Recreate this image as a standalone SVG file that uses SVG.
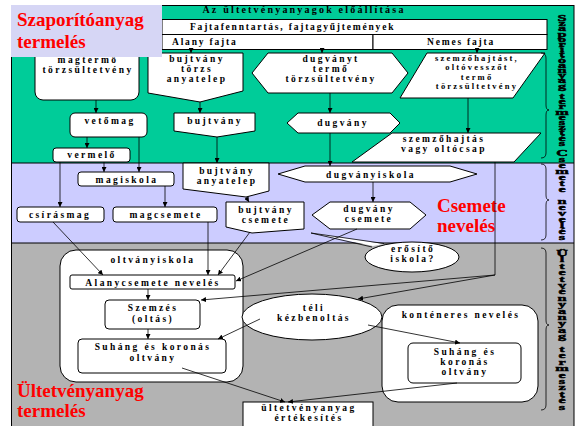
<svg xmlns="http://www.w3.org/2000/svg" width="577" height="426" viewBox="0 0 577 426">
<defs>
<marker id="ah" viewBox="0 0 6 6" refX="6" refY="3" markerWidth="5" markerHeight="5" orient="auto" markerUnits="userSpaceOnUse"><path d="M0,0 L6,3 L0,6 z" fill="#000"/></marker>
<style>
.t{font-family:"Liberation Serif","Times New Roman",serif;font-weight:bold;font-size:9.5px;letter-spacing:2.4px;text-anchor:middle;fill:#000}
.s{font-size:8.5px;letter-spacing:2.2px}
.h{font-family:"Liberation Serif","Times New Roman",serif;font-weight:bold;font-size:9.5px;letter-spacing:1.8px;fill:#000}
.r{font-family:"Liberation Serif","Times New Roman",serif;font-weight:bold;font-size:19px;fill:#f00}
.v{font-family:"Liberation Serif","Times New Roman",serif;font-weight:bold;font-size:12px;text-anchor:middle;fill:#000;stroke:#000;stroke-width:0.6px}
.n{fill:#fff;stroke:#000;stroke-width:1}
.c{fill:none;stroke:#000;stroke-width:0.8}
.a{marker-end:url(#ah)}
</style>
</defs>
<rect width="577" height="426" fill="#fff"/>
<!-- bands -->
<rect x="11" y="5" width="563" height="158" fill="#00CC99"/>
<rect x="11" y="163" width="563" height="80" fill="#CCCCFF"/>
<rect x="11" y="243" width="563" height="183" fill="#B3B3B3"/>
<path d="M11,163 H574 M11,243 H574" stroke="#000" stroke-width="1"/>
<rect x="11.5" y="5.5" width="562.5" height="425" fill="none" stroke="#000" stroke-width="1"/>

<!-- header rows -->
<g id="header">
<text class="h" x="304" y="13" style="font-size:10px;letter-spacing:2.2px;text-anchor:middle">Az ültetvényanyagok előállítása</text>
<rect class="n" x="162" y="19.5" width="385" height="15"/>
<text class="h" x="190" y="30">Fajtafenntartás, fajtagyűjtemények</text>
<rect class="n" x="162" y="34.5" width="211" height="15"/>
<rect class="n" x="373" y="34.5" width="174" height="15"/>
<text class="h" x="172" y="45">Alany fajta</text>
<text class="h" x="427" y="45">Nemes fajta</text>
</g>

<!-- green band nodes -->
<g id="magtermo"><rect class="n" x="35" y="46" width="104" height="54" rx="8"/><text class="t" x="88" y="63">magtermő</text><text class="t" x="88" y="73">törzsültetvény</text></g>
<g id="bujtvany-torzs"><polygon class="n" points="148,53 243,53 243,91 200,102 148,93"/><text class="t" x="197" y="62">bujtvány</text><text class="t" x="197" y="72">törzs</text><text class="t" x="197" y="82">anyatelep</text></g>
<g id="dugvanyt"><polygon class="n" points="252,73 268,53 392,53 408,73 392,93 268,93"/><text class="t" x="331" y="62">dugványt</text><text class="t" x="331" y="72">termő</text><text class="t" x="331" y="82">törzsültetvény</text></g>
<g id="szemzohajtast"><polygon class="n" points="427,53 545,53 513,98 400,98"/><text class="t s" x="477" y="61">szemzőhajtást,</text><text class="t s" x="477" y="70.4">oltóvesszőt</text><text class="t s" x="477" y="79.8">termő</text><text class="t s" x="477" y="89.2">törzsültetvény</text></g>
<g id="vetomag"><rect class="n" x="70" y="113" width="77" height="24" rx="5"/><text class="t" x="110" y="124">vetőmag</text></g>
<g id="bujtvany"><polygon class="n" points="174,113 255,113 255,131 217,137 174,131"/><text class="t" x="215" y="124">bujtvány</text></g>
<g id="dugvany"><polygon class="n" points="287,123 298,113 390,113 400,123 390,133 298,133"/><text class="t" x="343" y="126">dugvány</text></g>
<g id="vermelo"><rect class="n" x="53" y="148" width="77" height="14" rx="3"/><text class="t" x="92" y="158">vermelő</text></g>
<g id="szemzohajtas"><polygon class="n" points="392,133 541,133 514,162 352,162"/><text class="t" x="444" y="142">szemzőhajtás</text><text class="t" x="444" y="152">vagy oltócsap</text></g>

<!-- lavender band nodes -->
<g id="magiskola"><rect class="n" x="78" y="172" width="96" height="14" rx="3"/><text class="t" x="127" y="183">magiskola</text></g>
<g id="csirasmag"><rect class="n" x="17" y="207" width="87" height="15" rx="3"/><text class="t" x="60" y="218">csírásmag</text></g>
<g id="magcsemete"><rect class="n" x="113" y="207" width="104" height="15" rx="3"/><text class="t" x="166" y="218">magcsemete</text></g>
<g id="bujtvany-anyatelep"><polygon class="n" points="183,163 269,163 269,191 246,197 183,189"/><text class="t" x="227" y="174">bujtvány</text><text class="t" x="227" y="184">anyatelep</text></g>
<g id="bujtvany-csemete"><polygon class="n" points="226,202 304,202 304,229 252,233 226,227"/><text class="t" x="266" y="213">bujtvány</text><text class="t" x="266" y="223">csemete</text></g>
<g id="dugvanyiskola"><polygon class="n" points="278,174 305,166 450,166 477,174 450,182 305,182"/><text class="t" x="371" y="177.5">dugványiskola</text></g>
<g id="dugvany-csemete"><polygon class="n" points="312,215 330,202 410,202 426,215 410,229 330,229"/><text class="t" x="369" y="212">dugvány</text><text class="t" x="369" y="222">csemete</text></g>
<g id="erosito"><ellipse class="n" cx="412" cy="257" rx="47" ry="15"/><polygon points="373,246 311,233 384,244" fill="#fff"/><path class="c" d="M372,247 L311,233 L384,243.5"/><text class="t" x="413" y="252">erősítő</text><text class="t" x="413" y="262">iskola?</text></g>

<!-- gray band nodes -->
<g id="oltvanyiskola"><rect class="n" x="60" y="250" width="183" height="132" rx="16"/><text class="t" x="153" y="263">oltványiskola</text></g>
<g id="alanycsemete"><rect class="n" x="70" y="275" width="165" height="14" rx="2"/><text class="t" x="153" y="286">Alanycsemete nevelés</text></g>
<g id="szemzes"><rect class="n" x="105" y="300" width="95" height="29" rx="4"/><text class="t" x="153" y="311">Szemzés</text><text class="t" x="153" y="322">(oltás)</text></g>
<g id="suhang1"><rect class="n" x="78" y="339" width="148" height="34" rx="4"/><text class="t" x="153" y="350">Suháng és koronás</text><text class="t" x="153" y="361">oltvány</text></g>
<g id="teli"><ellipse class="n" cx="312" cy="317" rx="70" ry="23"/><text class="t" x="314" y="311">téli</text><text class="t" x="314" y="321">kézbenoltás</text></g>
<g id="kontener"><rect class="n" x="382" y="305" width="156" height="97" rx="16"/><text class="t" x="461" y="318">konténeres nevelés</text></g>
<g id="suhang2"><rect class="n" x="408" y="343" width="113" height="40" rx="5"/><text class="t" x="465" y="355">Suháng és</text><text class="t" x="465" y="365">koronás</text><text class="t" x="465" y="375">oltvány</text></g>
<g id="ertekesites"><rect class="n" x="243" y="402" width="130" height="30"/><text class="t" x="309" y="411">ültetvényanyag</text><text class="t" x="309" y="421">értékesítés</text></g>

<!-- title labels -->
<g id="title-szaporito"><rect x="11" y="5" width="151" height="52" fill="#D6D6F5"/><text class="r" x="17" y="26">Szaporítóanyag</text><text class="r" x="17" y="48">termelés</text></g>
<g id="title-csemete"><text class="r" x="437" y="212">Csemete</text><text class="r" x="437" y="232">nevelés</text></g>
<g id="title-ultetveny"><text class="r" x="17" y="397">Ültetvényanyag</text><text class="r" x="17" y="417">termelés</text></g>

<!-- connectors -->
<g id="connectors">
<path class="c a" d="M191,49.5 V53"/>
<path class="c a" d="M322,49.5 V53"/>
<path class="c a" d="M477,49.5 V53"/>
<path class="c a" d="M96,100 V113"/>
<path class="c a" d="M200,102 V113"/>
<path class="c a" d="M330,93 V113"/>
<path class="c a" d="M468,98 V133"/>
<path class="c a" d="M87,137 V148"/>
<path class="c a" d="M139,137 V172"/>
<path class="c a" d="M104,162 V172"/>
<path class="c a" d="M60,162 V207"/>
<path class="c a" d="M217,137 V163"/>
<path class="c a" d="M330,133 V166"/>
<path class="c a" d="M165,186 V207"/>
<path class="c a" d="M246,197 L249,202"/>
<path class="c a" d="M373,182 V202"/>
<path class="c a" d="M53,222 L103,275"/>
<path class="c a" d="M208,222 V275"/>
<path class="c a" d="M250,232 L218,275"/>
<path class="c a" d="M357,229 L236,281"/>
<path class="c" d="M495,162 V275"/>
<path class="c a" d="M495,275 L358,299"/>
<path class="c a" d="M495,275 L201,300"/>
<path class="c a" d="M148,289 V300"/>
<path class="c a" d="M148,329 V339"/>
<path class="c a" d="M260,319 L218,339"/>
<path class="c a" d="M368,325 L460,343"/>
<path class="c a" d="M182,368 L285,402"/>
<path class="c a" d="M457,383 L288,402"/>
<path class="c" d="M541,53 Q546,53 546,58 V105 Q546,110 549,110 Q546,110 546,115 V153 Q546,158 541,158"/>
<path class="c" d="M541,164 Q546,164 546,169 V195 Q546,200 549,200 Q546,200 546,205 V235 Q546,240 541,240"/>
<path class="c" d="M541,248 Q546,248 546,253 V320 Q546,325 549,325 Q546,325 546,330 V405 Q546,410 541,410"/>
</g>

<!-- side vertical labels -->
<g id="side-labels" transform="translate(562,0) scale(1.35,0.7)">
<text class="v" x="0 0 0 0 0 0 0 0 0 0 0 0 0 0 0 0 0 0 0 0 0 0 0 0 0" y="30 37.43 44.86 52.29 59.71 67.14 74.57 82 89.43 96.86 104.29 111.71 119.14 126.57 134 141.43 148.86 156.29 163.71 171.14 178.57 186 193.43 200.86 208.29">Szaporítóanyag termesztés</text>
<text class="v" x="0 0 0 0 0 0 0 0 0 0 0 0 0 0 0" y="222.86 231.43 240 248.57 257.14 265.71 274.29 282.86 291.43 300 308.57 317.14 325.71 334.29 342.86">Csemete nevelés</text>
<text class="v" x="0 0 0 0 0 0 0 0 0 0 0 0 0 0 0 0 0 0 0 0 0 0 0 0 0" y="365.71 374.86 384 393.14 402.29 411.43 420.57 429.71 438.86 448 457.14 466.29 475.43 484.57 493.71 502.86 512 521.14 530.29 539.43 548.57 557.71 566.86 576 585.14">Ültetvényanyag termesztés</text>
</g>
</svg>
